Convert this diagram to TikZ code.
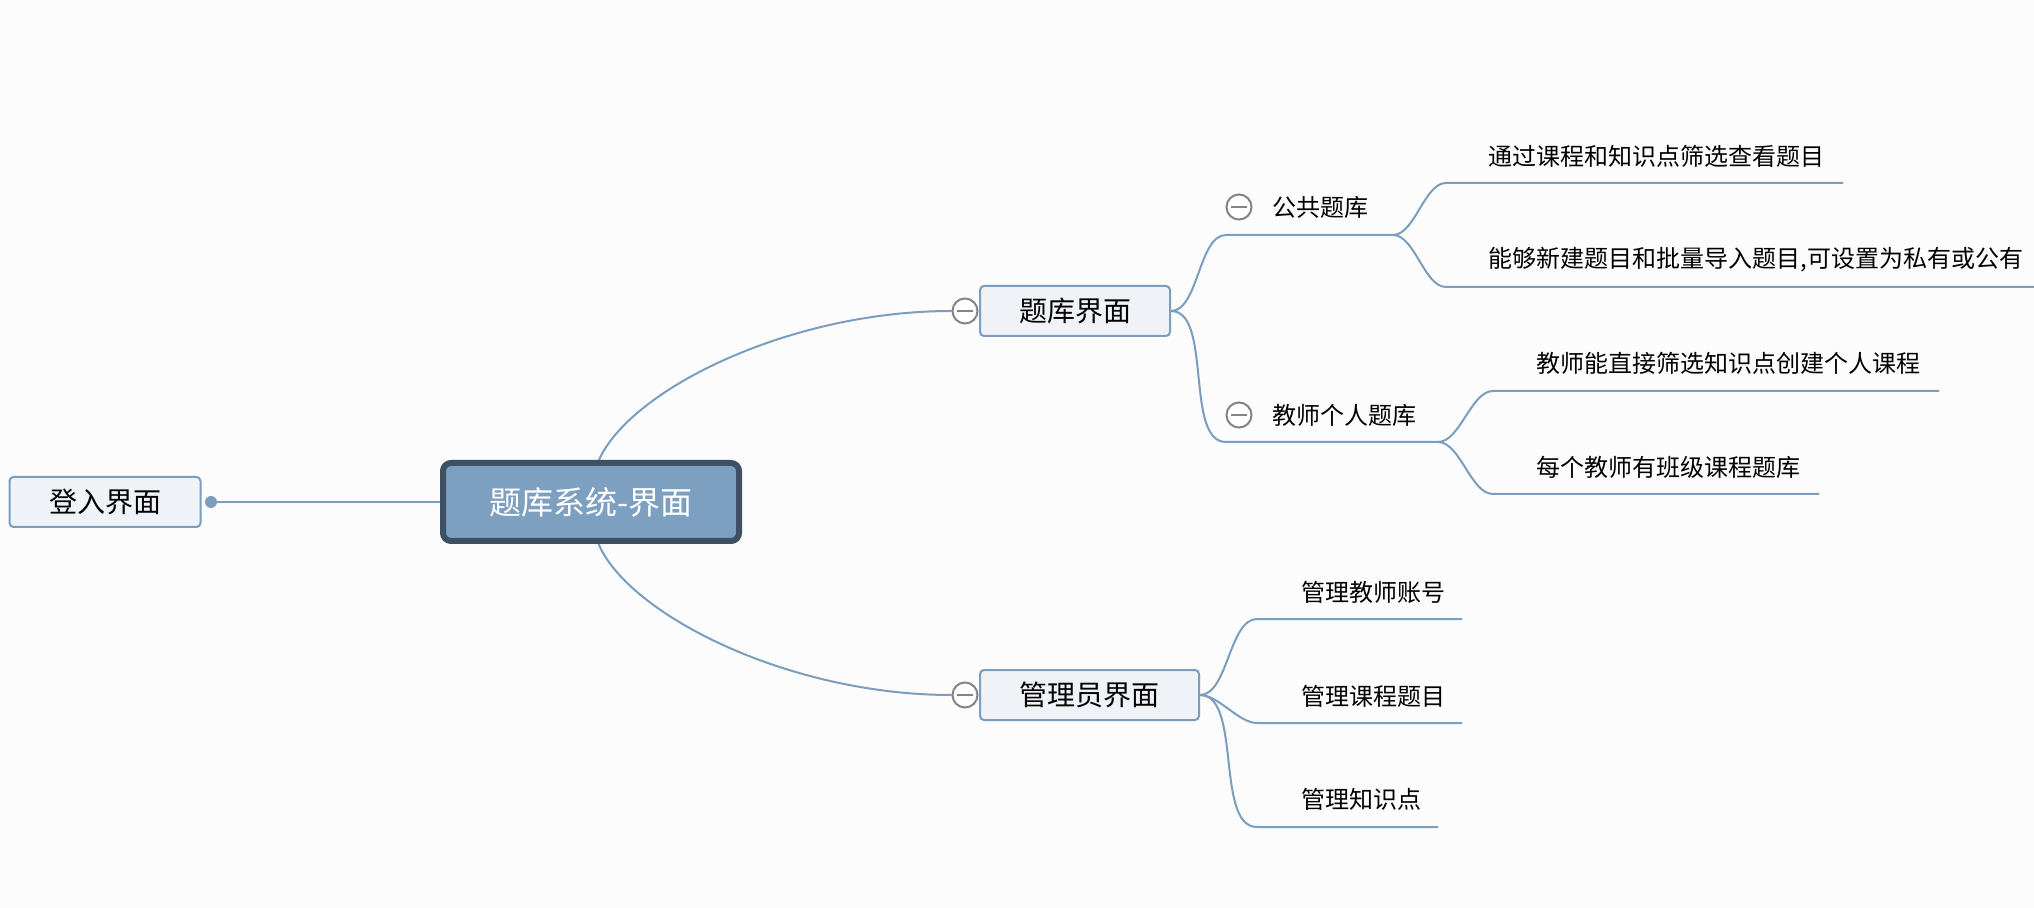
\documentclass[tikz,border=0pt]{standalone}
\usepackage{fontspec}
\setmainfont{Noto Sans CJK SC}
\usetikzlibrary{calc}
\pgfdeclarelayer{background}
\pgfsetlayers{background,main}
\definecolor{linec}{HTML}{7B9DBE}
\definecolor{boxfill}{HTML}{EFF3F7}
\definecolor{cfill}{HTML}{7DA0C0}
\definecolor{cborder}{HTML}{3E5063}
\definecolor{bgc}{HTML}{FCFCFC}
\definecolor{iconc}{HTML}{858585}
\tikzset{
  topicbox/.style={draw=linec, line width=1pt, fill=boxfill, rounded corners=2pt,
    minimum height=25pt, inner sep=0pt, font=\fontsize{14}{16}\selectfont, text=black},
  rootbox/.style={draw=cborder, line width=3pt, fill=cfill, rounded corners=4pt,
    minimum width=148pt, minimum height=39pt, inner sep=0pt,
    font=\fontsize{16}{18}\selectfont, text=white},
  subtext/.style={anchor=west, inner sep=0pt, font=\fontsize{12}{14}\selectfont, text=black},
  branch/.style={draw=linec, line width=1pt},
  icon/.style={circle, draw=iconc, line width=1pt, fill=white, minimum size=12.5pt, inner sep=0pt,
    path picture={\draw[iconc, line width=1pt] ($(path picture bounding box.center)+(-3.8pt,0)$) -- ($(path picture bounding box.center)+(3.8pt,0)$);}},
  sdot/.style={circle, fill=linec, minimum size=6pt, inner sep=0pt},
  scurve/.style={out=0, in=180, looseness=0.75}
}
\begin{document}
\begin{tikzpicture}[x=0.5pt, y=-0.5pt]
\useasboundingbox (0,0) rectangle (2034,908);

% nodes
\node[topicbox, minimum width=95.5pt] (login) at (105,502) {登入界面};
\node[sdot] (dot) at (211,502) {};
\node[rootbox] (root) at (591,502) {题库系统-界面};
\node[topicbox, minimum width=95pt] (tk) at (1075,311) {题库界面};
\node[topicbox, minimum width=109.5pt] (adm) at (1089.5,695) {管理员界面};
\node[icon] (tki) at (965,311) {};
\node[icon] (admi) at (965,695) {};

% sub topics
\node[icon] (ggi) at (1239,207) {};
\node[subtext] (gg) at (1272,207) {公共题库};
\coordinate (gga) at (1226,235);
\coordinate (ggb) at (1393,235);
\node[icon] (jsi) at (1239,415) {};
\node[subtext] (js) at (1272,415) {教师个人题库};
\coordinate (jsa) at (1226,442);
\coordinate (jsb) at (1438,442);

% leaves
\node[subtext] (l1) at (1488,156) {通过课程和知识点筛选查看题目};
\coordinate (l1a) at (1446,183); \coordinate (l1b) at (1843,183);
\node[subtext] (l2) at (1488,260) {能够新建题目和批量导入题目,可设置为私有或公有};
\coordinate (l2a) at (1446,287); \coordinate (l2b) at (2034,287);
\node[subtext] (l3) at (1536,363) {教师能直接筛选知识点创建个人课程};
\coordinate (l3a) at (1493,391); \coordinate (l3b) at (1939,391);
\node[subtext] (l4) at (1536,467) {每个教师有班级课程题库};
\coordinate (l4a) at (1493,494); \coordinate (l4b) at (1819,494);
\node[subtext] (a1) at (1301,592) {管理教师账号};
\coordinate (a1a) at (1257,619); \coordinate (a1b) at (1462,619);
\node[subtext] (a2) at (1301,696) {管理课程题目};
\coordinate (a2a) at (1257,723); \coordinate (a2b) at (1462,723);
\node[subtext] (a3) at (1301,799) {管理知识点};
\coordinate (a3a) at (1257,827); \coordinate (a3b) at (1438,827);

\coordinate (rtop) at (599,470);
\coordinate (rbot) at (599,536);

\begin{pgfonlayer}{background}
\fill[bgc] (0,0) rectangle (2034,908);
\draw[branch] (dot) -- (root.west);
\draw[branch] (rtop) -- (599,460) .. controls +(31,-70) and +(-163,0) .. (tki.west);
\draw[branch] (rbot) -- (599,545) .. controls +(31,70) and +(-163,0) .. (admi.west);
\draw[branch] (tk.east) to[scurve] (gga) -- (ggb);
\draw[branch] (tk.east) to[scurve] (jsa) -- (jsb);
\draw[branch] (ggb) to[scurve] (l1a) -- (l1b);
\draw[branch] (ggb) to[scurve] (l2a) -- (l2b);
\draw[branch] (jsb) to[scurve] (l3a) -- (l3b);
\draw[branch] (jsb) to[scurve] (l4a) -- (l4b);
\draw[branch] (adm.east) to[scurve] (a1a) -- (a1b);
\draw[branch] (adm.east) to[scurve] (a2a) -- (a2b);
\draw[branch] (adm.east) to[scurve] (a3a) -- (a3b);
\end{pgfonlayer}
\end{tikzpicture}
\end{document}
